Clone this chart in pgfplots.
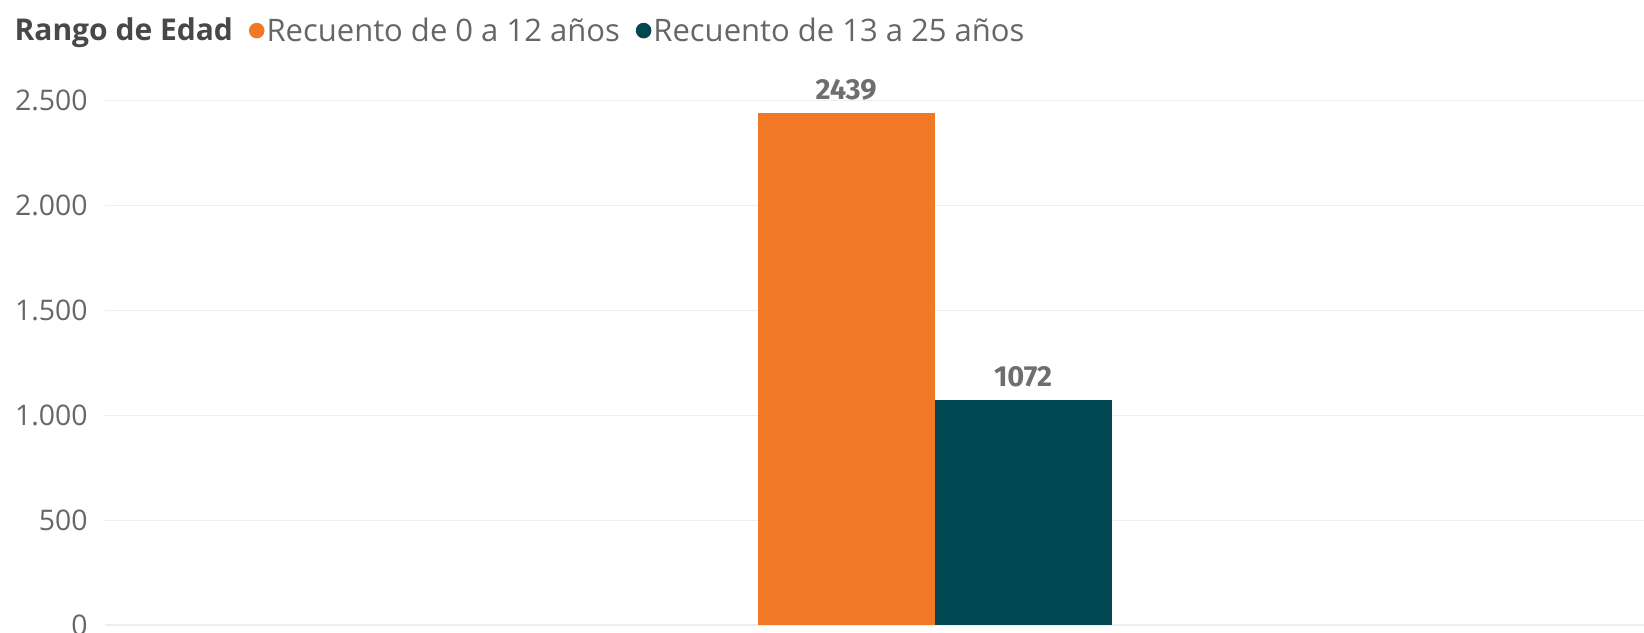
\documentclass[border=0pt]{standalone}
\usepackage{fontspec}
\setmainfont{Open Sans}
\newfontfamily\dinfont{Fira Sans}
\usepackage{pgfplots}
\pgfplotsset{compat=1.18}
\definecolor{naranja}{RGB}{241,121,38}
\definecolor{petroleo}{RGB}{1,71,82}
\definecolor{textogris}{RGB}{102,102,102}
\definecolor{titulogris}{RGB}{72,72,72}
\definecolor{etiqueta}{RGB}{110,110,110}
\definecolor{rejilla}{RGB}{238,238,238}

\begin{document}
\begin{tikzpicture}
\useasboundingbox (0,0) rectangle (822pt,316pt);
\begin{axis}[
  at={(52.5pt,3.5pt)}, anchor=south west,
  scale only axis, width=769.5pt, height=262.2pt,
  xmin=-4.69, xmax=4.01,
  ymin=0, ymax=2500,
  ytick={0,500,1000,1500,2000,2500},
  xtick=\empty,
  ymajorgrids, grid style={rejilla, line width=0.6pt},
  axis line style={draw=none},
  tick style={draw=none},
  yticklabel style={font=\fontsize{14.2}{16}\selectfont, color=textogris,
                    inner sep=0pt, xshift=-8.5pt},
  /pgf/number format/1000 sep={.},
  /pgf/number format/assume math mode=true,
  clip=false,
  legend columns=-1,
  legend style={at={(axis description cs:-0.0603,1.1327)}, anchor=west,
                draw=none, fill=none, inner sep=0pt,
                font=\fontsize{15.5}{17}\selectfont, text=textogris,
                nodes={inner sep=0pt},
                /tikz/every odd column/.append style={column sep=1pt},
                /tikz/every even column/.append style={column sep=8pt}},
  nodes near coords={\pgfmathprintnumber[1000 sep={}]{\pgfplotspointmeta}},
  nodes near coords style={font=\dinfont\bfseries\fontsize{14.5}{16}\selectfont,
                           color=etiqueta, anchor=south, inner sep=0pt,
                           yshift=6.5pt},
]
\addlegendimage{empty legend}
\addlegendentry{\textcolor{titulogris}{\fontsize{15}{17}\selectfont\bfseries Rango de Edad}\hspace{1pt}}
\addplot[ybar, bar width=1, bar shift=0pt, fill=naranja, draw=none,
  legend image code/.code={\fill[naranja] (3.9pt,0.2pt) circle (3.9pt);}]
  coordinates {(-0.5,2439)};
\addlegendentry{Recuento de 0 a 12 años}
\addplot[ybar, bar width=1, bar shift=0pt, fill=petroleo, draw=none,
  legend image code/.code={\fill[petroleo] (3.9pt,0.2pt) circle (3.9pt);}]
  coordinates {(0.5,1072)};
\addlegendentry{Recuento de 13 a 25 años}
\end{axis}
\end{tikzpicture}
\end{document}
